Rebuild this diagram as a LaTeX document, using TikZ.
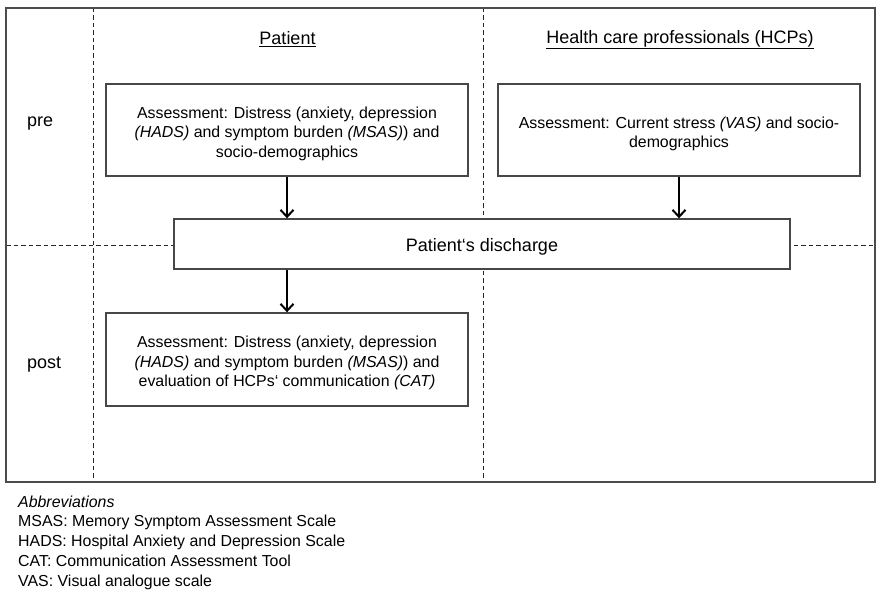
\documentclass[tikz,border=0pt]{standalone}
\usepackage{fontspec}
\setmainfont{Liberation Sans}
\usetikzlibrary{arrows.meta}
\tikzset{
  frameline/.style={draw=black!70, line width=1.4pt},
  divider/.style={draw=black!85, line width=0.9pt, dash pattern=on 4.5pt off 3pt},
  boxnode/.style={draw=black!72, line width=1.4pt, fill=white, inner sep=0pt},
  boxtext/.style={align=center, font=\fontsize{15.9}{19.6}\selectfont, inner sep=0pt},
  title/.style={font=\fontsize{18}{21}\selectfont},
  phase/.style={font=\fontsize{18}{21}\selectfont, anchor=west, inner sep=0pt},
  abbr/.style={font=\fontsize{15.9}{19.6}\selectfont, anchor=base west, inner sep=0pt},
  arr/.style={draw=black, line width=2.5pt, -{Straight Barb[length=7pt,width=13pt,line width=2pt]}}
}
\begin{document}
\begin{tikzpicture}[x=1pt,y=-1pt]
\useasboundingbox (0,0) rectangle (882,594);
\fill[white] (0,0) rectangle (882,594);
\coordinate (tl) at (6,8);
\coordinate (br) at (875,482);
\coordinate (v1t) at (93,8);
\coordinate (v1b) at (93,482);
\coordinate (v2t) at (483,8);
\coordinate (v2b) at (483,482);
\coordinate (hl) at (6,245);
\coordinate (hr) at (875,245);
% dividers
\draw[divider] (v1t) -- (v1b);
\draw[divider] (v2t) -- (v2b);
\draw[divider] (hl) -- (hr);
% frame
\draw[frameline] (tl) rectangle (br);
% titles
\node[title] (tpat) at (287.5,39.5) {\underline{Patient}};
\node[title] (thcp) at (680,39.5) {\underline{Health care professionals (HCPs)}};
% phase labels
\node[phase] (pre) at (27,123.5) {pre};
\node[phase] (post) at (27,365) {post};
% boxes
\node[boxnode, minimum width=362pt, minimum height=92pt] (b1) at (287,130) {};
\node[boxtext] (b1t) at ([yshift=-3.5pt]b1.center)
  {Assessment: Distress (anxiety, depression\\\textit{(HADS)} and symptom burden \textit{(MSAS)}) and\\socio-demographics};
\node[boxnode, minimum width=362pt, minimum height=92pt] (hcp) at (679,130) {};
\node[boxtext] (hcpt) at ([yshift=-4pt]hcp.center)
  {Assessment: Current stress \textit{(VAS)} and socio-\\demographics};
\node[boxnode, minimum width=616pt, minimum height=50pt] (dis) at (482,244) {};
\node[boxtext, font=\fontsize{18}{21}\selectfont] (dist) at ([yshift=-3pt]dis.center)
  {Patient‘s discharge};
\node[boxnode, minimum width=362pt, minimum height=93pt] (pb) at (287,359.5) {};
\node[boxtext] (pbt) at ([yshift=-3.5pt]pb.center)
  {Assessment: Distress (anxiety, depression\\\textit{(HADS)} and symptom burden \textit{(MSAS)}) and\\evaluation of HCPs‘ communication \textit{(CAT)}};
% arrows
\draw[arr] (b1.south) -- (b1.south |- dis.north);
\draw[arr] (hcp.south) -- (hcp.south |- dis.north);
\draw[arr] (pb.north |- dis.south) -- (pb.north);
% abbreviations
\node[abbr] (a0) at (18,507) {\textit{Abbreviations}};
\node[abbr] (a1) at (18,526.5) {MSAS: Memory Symptom Assessment Scale};
\node[abbr] (a2) at (18,546.5) {HADS: Hospital Anxiety and Depression Scale};
\node[abbr] (a3) at (18,566) {CAT: Communication Assessment Tool};
\node[abbr] (a4) at (18,586) {VAS: Visual analogue scale};
\end{tikzpicture}
\end{document}
